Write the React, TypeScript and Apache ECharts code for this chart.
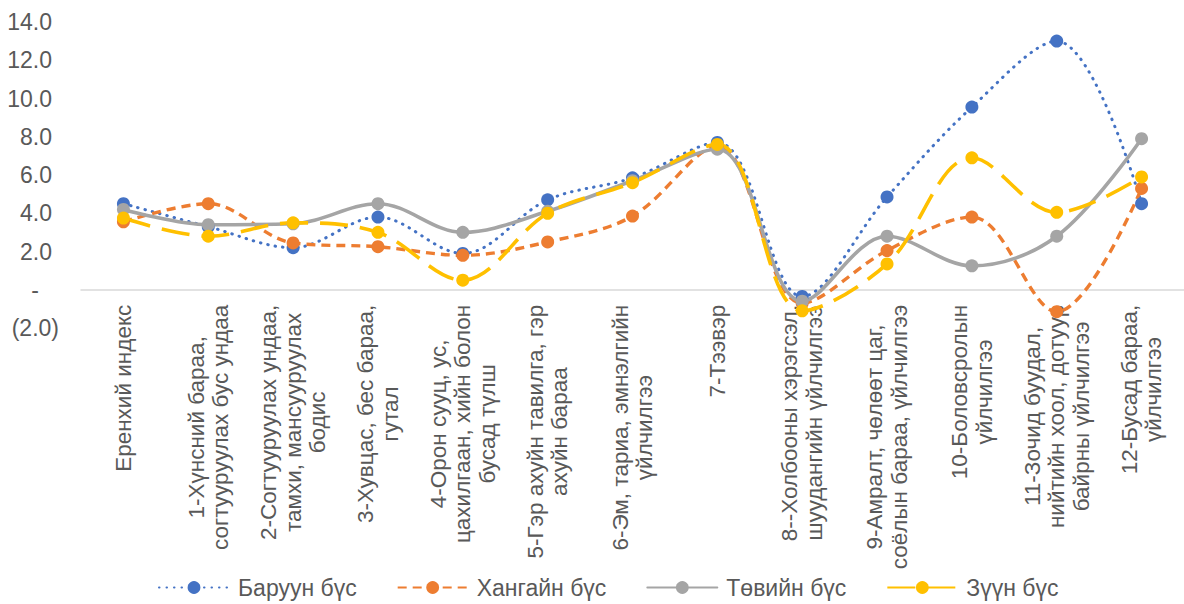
import React, { useEffect, useRef } from "react";
import * as echarts from "echarts";

const categories = [
  "Еренхий индекс",
  "1-Хүнсний бараа,\nсогтууруулах бус ундаа",
  "2-Согтууруулах ундаа,\nтамхи, мансууруулах\nбодис",
  "3-Хувцас, бес бараа,\nгутал",
  "4-Орон сууц, ус,\nцахилгаан, хийн болон\nбусад түлш",
  "5-Гэр ахуйн тавилга, гэр\nахуйн бараа",
  "6-Эм, тариа, эмнэлгийн\nүйлчилгээ",
  "7-Тээвэр",
  "8--Холбооны хэрэгсэл,\nшуудангийн үйлчилгээ",
  "9-Амралт, чөлөөт цаг,\nсоёлын бараа, үйлчилгээ",
  "10-Боловсролын\nүйлчилгээ",
  "11-Зочид буудал,\nнийтийн хоол, дотуур\nбайрны үйлчилгээ",
  "12-Бусад бараа,\nүйлчилгээ",
];

const seriesNames = ["Баруун бүс", "Хангайн бүс", "Төвийн бүс", "Зүүн бүс"];

const baruun = [4.5, 3.3, 2.2, 3.8, 1.9, 4.7, 5.85, 7.7, -0.35, 4.85, 9.55, 13.0, 4.5];
const khangai = [3.55, 4.5, 2.45, 2.25, 1.8, 2.5, 3.85, 7.5, -0.7, 2.05, 3.8, -1.15, 5.3];
const tuv = [4.2, 3.4, 3.45, 4.5, 3.0, 4.1, 5.7, 7.35, -0.6, 2.8, 1.25, 2.8, 7.9];
const zuun = [3.75, 2.8, 3.5, 3.0, 0.5, 4.0, 5.6, 7.6, -1.1, 1.35, 6.9, 4.05, 5.9];

const yMin = -2;
const yMax = 14;
const yStep = 2;

const FONT = "'Liberation Sans', Arial, sans-serif";
const TEXT = "#595959";
const FS = 23;
const CAT_FS = 22.5;

export default function App() {
  const ref = useRef<HTMLDivElement>(null);
  useEffect(() => {
    document.body.style.margin = "0";
    const chart = echarts.init(ref.current!, undefined, { renderer: "svg" });
    const mk = (
      name: string,
      data: number[],
      color: string,
      width: number,
      type: any,
      cap: any
    ) => ({
      name,
      type: "line",
      data,
      smooth: 0.35,
      symbol: "circle",
      symbolSize: 13,
      itemStyle: { color },
      lineStyle: { color, width, type, cap },
      emphasis: { disabled: true },
    });
    chart.setOption({
      animation: false,
      textStyle: { fontFamily: FONT },
      grid: { left: 81, top: 22, height: 306, width: 1121, containLabel: false },
      legend: {
        left: 158,
        top: 576,
        padding: 0,
        itemWidth: 70,
        itemHeight: 16,
        itemGap: 40,
        textStyle: { fontSize: FS, color: TEXT, fontFamily: FONT, padding: [0, 0, 0, 4] },
        data: seriesNames,
      },
      xAxis: {
        type: "category",
        data: categories,
        boundaryGap: true,
        axisLine: { onZero: true, lineStyle: { color: "#D9D9D9", width: 1.5 } },
        axisTick: { show: false },
        axisLabel: { show: false },
      },
      yAxis: {
        type: "value",
        min: yMin,
        max: yMax,
        interval: yStep,
        axisLine: { show: false },
        axisTick: { show: false },
        splitLine: { show: false },
        axisLabel: {
          margin: 22,
          color: TEXT,
          fontSize: FS,
          fontFamily: FONT,
          formatter: (v: number) =>
            v === 0
              ? "{z|-}"
              : v < 0
              ? `{n|(${Math.abs(v).toFixed(1)})}`
              : `{p|${v.toFixed(1)}}`,
          rich: {
            p: { padding: [0, 7, 0, 0], fontSize: FS, color: TEXT, fontFamily: FONT },
            z: { padding: [0, 20, 0, 0], fontSize: FS, color: TEXT, fontFamily: FONT },
            n: { fontSize: FS, color: TEXT, fontFamily: FONT },
          },
        },
      },
      series: [
        mk(seriesNames[0], baruun, "#4472C4", 3, [0.5, 7], "round"),
        mk(seriesNames[1], khangai, "#ED7D31", 3.4, [9, 6], "butt"),
        mk(seriesNames[2], tuv, "#A5A5A5", 3.6, "solid", "round"),
        mk(seriesNames[3], zuun, "#FFC000", 3.6, [28, 12], "butt"),
      ],
    });

    // Category labels: rotated, lines centred within a block whose top sits under the axis line
    const canvas = document.createElement("canvas");
    const ctx = canvas.getContext("2d")!;
    ctx.font = `${CAT_FS}px ${FONT}`;
    const y0 = chart.convertToPixel({ yAxisIndex: 0 }, 0) as number;
    const LH = 24.5;
    const MARGIN = 15;
    const elements: any[] = [];
    categories.forEach((c, i) => {
      const x = chart.convertToPixel({ xAxisIndex: 0 }, i) as number;
      const lines = c.split("\n");
      const W = Math.max(...lines.map((l) => ctx.measureText(l).width));
      const n = lines.length;
      lines.forEach((l, j) => {
        elements.push({
          type: "text",
          x: x + (j - (n - 1) / 2) * LH,
          y: y0 + MARGIN + W / 2,
          rotation: Math.PI / 2,
          silent: true,
          style: {
            text: l,
            fontSize: CAT_FS,
            fontFamily: FONT,
            fill: TEXT,
            align: "center",
            verticalAlign: "middle",
          },
        });
      });
    });
    chart.setOption({ graphic: { elements } });

    return () => chart.dispose();
  }, []);
  return <div ref={ref} style={{ width: 1184, height: 604 }} />;
}
